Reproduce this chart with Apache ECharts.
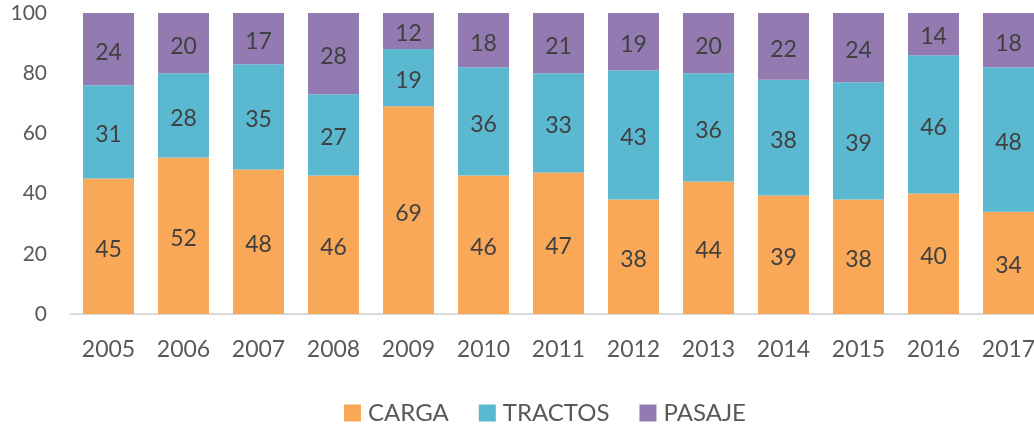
<!DOCTYPE html>
<html>
<head>
<meta charset="utf-8" />
<script src="https://cdn.jsdelivr.net/npm/echarts@6/dist/echarts.min.js"></script>
<style>
  html, body { margin: 0; padding: 0; background: #fff; overflow: hidden; }
  #chart { width: 1046px; height: 424px; }
</style>
</head>
<body>
<div id="chart"></div>
<script>
// 年份
var years = ["2005", "2006", "2007", "2008", "2009", "2010", "2011", "2012", "2013", "2014", "2015", "2016", "2017"];
// 各类占比（标签取整显示）
var carga = [45, 52, 48, 46, 69, 46, 47, 38, 44, 39.4, 38, 40, 34];
var tractos = [31, 28, 35, 27, 19, 36, 33, 43, 36, 38.4, 39, 46, 48];
var pasaje = [24, 20, 17, 28, 12, 18, 21, 19, 20, 22.2, 24, 14, 18];

var fontName = "Lato";
var myChart = echarts.init(document.getElementById("chart"));

function makeSeries(name, data, color) {
  return {
    name: name,
    type: "bar",
    stack: "total",
    data: data,
    barCategoryGap: "32%",
    itemStyle: { color: color },
    label: {
      show: true,
      position: "inside",
      offset: [0, 3],
      color: "#404040",
      fontSize: 23,
      fontFamily: fontName,
      formatter: function (p) {
        return Math.round(p.value);
      },
    },
  };
}

var option = {
  animation: false,
  textStyle: { fontFamily: fontName },
  legend: {
    top: 396,
    left: 339,
    itemWidth: 17,
    itemHeight: 17,
    itemGap: 30,
    icon: "rect",
    textStyle: { color: "#595959", fontSize: 24, fontFamily: fontName, padding: [0, 0, 0, 2] },
    data: ["CARGA", "TRACTOS", "PASAJE"],
  },
  grid: {
    left: 71,
    right: 0,
    top: 13,
    bottom: 110,
  },
  xAxis: {
    type: "category",
    data: years,
    axisLine: { lineStyle: { color: "#d9d9d9", width: 2 } },
    axisTick: { show: false },
    axisLabel: { color: "#595959", fontSize: 23, margin: 24, fontFamily: fontName },
  },
  yAxis: {
    type: "value",
    min: 0,
    max: 100,
    interval: 20,
    axisLine: { show: false },
    axisTick: { show: false },
    splitLine: { show: false },
    axisLabel: { color: "#595959", fontSize: 21, margin: 24, fontFamily: fontName },
  },
  series: [
    makeSeries("CARGA", carga, "#F9A857"),
    makeSeries("TRACTOS", tractos, "#5BB8D1"),
    makeSeries("PASAJE", pasaje, "#937AB1"),
  ],
};
myChart.setOption(option);
</script>
</body>
</html>
